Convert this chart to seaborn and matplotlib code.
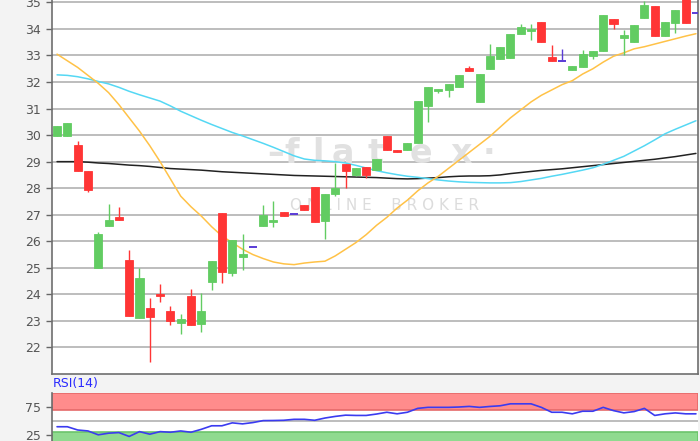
import numpy as np
import pandas as pd
import seaborn as sns
import matplotlib
matplotlib.use("Agg")
import matplotlib.pyplot as plt

# daily candles (index = trading day)
opens = [29.95, 29.95, 29.62, 28.66, 25.00, 26.56, 26.90, 25.30, 23.10, 23.48,
         24.00, 23.38, 22.92, 23.92, 22.88, 24.47, 27.06, 24.80, 25.40, 25.80,
         26.58, 26.72, 27.12, 27.03, 27.35, 28.04, 26.75, 27.80, 28.90, 28.50,
         28.80, 28.70, 29.95, 29.45, 29.45, 29.70, 31.10, 31.65, 31.70, 31.80,
         32.52, 31.26, 32.48, 32.88, 32.92, 33.80, 33.93, 34.26, 32.95, 32.78,
         32.47, 32.57, 32.97, 33.16, 34.39, 33.66, 33.49, 34.43, 34.85, 33.74,
         34.23, 35.40, 34.60]
closes = [30.35, 30.47, 28.64, 27.92, 26.27, 26.81, 26.82, 23.17, 24.60, 23.15,
          23.95, 23.00, 23.07, 22.86, 23.38, 25.24, 24.83, 26.06, 25.53, 25.80,
          27.00, 26.80, 26.97, 27.03, 27.16, 26.72, 27.80, 28.00, 28.65, 28.75,
          28.50, 29.10, 29.45, 29.35, 29.70, 31.30, 31.80, 31.72, 31.92, 32.25,
          32.40, 32.32, 32.97, 33.32, 33.82, 34.07, 34.00, 33.51, 32.80, 32.78,
          32.60, 33.05, 33.17, 34.51, 34.18, 33.76, 34.16, 34.89, 33.74, 34.26,
          34.70, 34.23, 34.60]
highs = [30.35, 30.47, 29.78, 28.66, 26.35, 27.40, 27.31, 25.68, 25.00, 23.86,
         24.40, 23.57, 23.25, 24.21, 24.05, 25.24, 27.06, 26.06, 26.27, 25.80,
         27.37, 27.52, 27.12, 27.03, 27.35, 28.04, 27.80, 28.94, 28.90, 28.75,
         28.80, 29.10, 29.95, 29.45, 29.70, 31.30, 31.80, 31.72, 31.92, 32.25,
         32.62, 32.32, 33.45, 33.32, 33.82, 34.20, 34.18, 34.26, 33.39, 33.26,
         32.60, 33.22, 33.17, 34.51, 34.39, 33.97, 34.16, 35.04, 34.85, 34.26,
         34.70, 35.40, 34.60]
lows = [29.95, 29.95, 28.64, 27.87, 25.00, 26.56, 26.82, 23.17, 23.10, 21.44,
        23.70, 22.86, 22.52, 22.86, 22.60, 24.17, 24.42, 24.70, 24.90, 25.80,
        26.58, 26.52, 26.97, 27.03, 27.16, 26.72, 26.08, 27.70, 28.00, 28.45,
        28.40, 28.70, 29.45, 29.35, 29.45, 29.70, 30.50, 31.57, 31.44, 31.80,
        32.40, 31.26, 32.48, 32.85, 32.92, 33.80, 33.60, 33.51, 32.80, 32.78,
        32.47, 32.57, 32.85, 33.16, 34.01, 33.03, 33.49, 34.43, 33.74, 33.74,
        33.85, 34.23, 34.60]

# moving averages
ma_fast = [33.05, 32.80, 32.55, 32.25, 31.95, 31.60, 31.15, 30.65, 30.15, 29.60,
           29.00, 28.35, 27.70, 27.30, 26.95, 26.55, 26.20, 25.95, 25.70, 25.50,
           25.35, 25.22, 25.15, 25.12, 25.18, 25.22, 25.25, 25.45, 25.70, 25.95,
           26.25, 26.60, 26.90, 27.25, 27.55, 27.90, 28.20, 28.45, 28.75, 29.05,
           29.35, 29.65, 29.95, 30.30, 30.65, 30.95, 31.25, 31.50, 31.70, 31.90,
           32.05, 32.30, 32.50, 32.75, 32.97, 33.10, 33.25, 33.33, 33.43, 33.53,
           33.63, 33.73, 33.82]
ma_mid = [32.27, 32.25, 32.20, 32.12, 32.02, 31.93, 31.80, 31.65, 31.52, 31.40,
          31.28, 31.10, 30.90, 30.73, 30.56, 30.40, 30.25, 30.10, 29.97, 29.83,
          29.69, 29.54, 29.38, 29.22, 29.10, 29.05, 29.03, 29.00, 28.95, 28.86,
          28.76, 28.66, 28.58, 28.51, 28.45, 28.41, 28.36, 28.31, 28.27, 28.24,
          28.22, 28.21, 28.20, 28.20, 28.21, 28.25, 28.31, 28.37, 28.45, 28.52,
          28.60, 28.68, 28.77, 28.90, 29.05, 29.20, 29.40, 29.60, 29.82, 30.05,
          30.22, 30.38, 30.54]
ma_slow = [29.00, 29.00, 29.00, 28.98, 28.95, 28.93, 28.90, 28.87, 28.85, 28.82,
           28.78, 28.74, 28.72, 28.70, 28.68, 28.65, 28.62, 28.60, 28.58, 28.56,
           28.54, 28.52, 28.50, 28.48, 28.47, 28.46, 28.45, 28.44, 28.43, 28.42,
           28.41, 28.40, 28.38, 28.36, 28.35, 28.36, 28.38, 28.40, 28.43, 28.45,
           28.46, 28.46, 28.47, 28.50, 28.55, 28.59, 28.63, 28.67, 28.70, 28.73,
           28.77, 28.81, 28.85, 28.89, 28.93, 28.97, 29.01, 29.05, 29.09, 29.14,
           29.19, 29.25, 29.31]

rsi = [39.4, 39.4, 33.6, 31.9, 25.0, 27.9, 29.0, 22.1, 30.7, 26.1,
       30.7, 29.6, 31.9, 29.6, 34.8, 41.1, 41.1, 46.3, 44.5, 46.8,
       50.3, 50.5, 50.9, 52.6, 52.6, 50.9, 54.9, 57.8, 60.0, 59.5,
       59.5, 62.0, 65.2, 62.4, 65.2, 72.1, 73.9, 73.9, 73.9, 74.5,
       75.6, 73.9, 75.5, 76.7, 80.2, 80.2, 80.2, 73.9, 65.2, 65.2,
       62.4, 67.0, 67.0, 73.9, 68.1, 64.1, 66.4, 72.1, 59.5, 62.4,
       64.0, 62.4, 62.4]

price_ticks = [22, 23, 24, 25, 26, 27, 28, 29, 30, 31, 32, 33, 34, 35]
rsi_ticks = [25, 75]

GREEN = "#62cc62"
RED = "#ff3535"
DOJI = "#5a3cd6"

sns.set_style("white")
plt.rcParams['font.family'] = ['DejaVu Sans']

df = pd.DataFrame({"open": opens, "close": closes, "high": highs, "low": lows,
                   "ma_fast": ma_fast, "ma_mid": ma_mid, "ma_slow": ma_slow,
                   "rsi": rsi})
df["day"] = np.arange(len(df))

fig = plt.figure(figsize=(7, 4.41), dpi=100, facecolor="#f3f3f3")
ax = fig.add_axes([52 / 700, 67 / 441, 646 / 700, 374 / 441])
ax_rsi = fig.add_axes([52 / 700, 0, 646 / 700, 48.3 / 441])

# price panel
ax.set_facecolor("white")
for t in price_ticks:
    ax.axhline(t, color="#b2b2b2", linewidth=1.2, zorder=0)

# watermark, behind the lines and candles
for ch, px in zip("\u2013flatex\u00b7", [276, 292, 318, 343, 376, 421, 461, 489]):
    ax.text(px / 700, 1 - 163 / 441, ch, transform=fig.transFigure, fontsize=24,
            fontweight="bold", color="#e1e1e1", ha="center", va="baseline", zorder=1)
ax.text(384 / 700, 1 - 205 / 441, "O N L I N E    B R O K E R", transform=fig.transFigure,
        fontsize=11, color="#dcdcdc", ha="center", va="center", zorder=1)

sns.lineplot(data=df, x="day", y="ma_slow", ax=ax, color="#222222", linewidth=1.1, zorder=2)
sns.lineplot(data=df, x="day", y="ma_mid", ax=ax, color="#55d8f4", linewidth=1.1, zorder=2)
sns.lineplot(data=df, x="day", y="ma_fast", ax=ax, color="#ffc247", linewidth=1.1, zorder=2)

up = df["close"] > df["open"]
down = df["close"] < df["open"]
flat = df["close"] == df["open"]
colors = np.where(up, GREEN, np.where(down, RED, DOJI))

ax.vlines(df["day"], df["low"], df["high"], colors=colors, linewidth=1.0, zorder=3)
body_lo = df[["open", "close"]].min(axis=1)
body_hi = df[["open", "close"]].max(axis=1)
solid = ~flat
ax.bar(df["day"][solid], (body_hi - body_lo)[solid], bottom=body_lo[solid],
       width=0.78, color=colors[solid], edgecolor=colors[solid], linewidth=0.6, zorder=4)
ax.hlines(df["close"][flat], df["day"][flat] - 0.39, df["day"][flat] + 0.39,
          colors=DOJI, linewidth=1.4, zorder=4)

ax.set_xlim(-0.49, 62.2)
ax.set_ylim(21.0, 35.09)
ax.set_yticks(price_ticks)
ax.set_xticks([])
ax.set_xlabel("")
ax.set_ylabel("")
ax.tick_params(axis="y", length=4, width=1, color="#666666", labelsize=9,
               labelcolor="#555555", pad=4, left=True)
for side in ["left", "bottom", "right"]:
    ax.spines[side].set_color("#6e6e6e")
    ax.spines[side].set_linewidth(1.2)
ax.spines["top"].set_visible(False)

# RSI panel
ax_rsi.set_facecolor("white")
ax_rsi.axhspan(70, 100, facecolor="#ff8c8c", edgecolor="#e56a6a", linewidth=1.2, zorder=0)
ax_rsi.axhspan(0, 30, facecolor="#8fda8f", edgecolor="#6cc46c", linewidth=1.2, zorder=0)
ax_rsi.axhline(50, color="#b2b2b2", linewidth=1.2, zorder=1)
sns.lineplot(data=df, x="day", y="rsi", ax=ax_rsi, color="#3b3bf0", linewidth=1.2, zorder=3)
ax_rsi.set_xlim(-0.49, 62.2)
ax_rsi.set_ylim(14, 100)
ax_rsi.set_yticks(rsi_ticks)
ax_rsi.set_xticks([])
ax_rsi.set_xlabel("")
ax_rsi.set_ylabel("")
ax_rsi.tick_params(axis="y", length=4, width=1, color="#666666", labelsize=9,
                   labelcolor="#555555", pad=4, left=True)
ax_rsi.spines["left"].set_color("#6e6e6e")
ax_rsi.spines["left"].set_linewidth(1.2)
for side in ["top", "right", "bottom"]:
    ax_rsi.spines[side].set_visible(False)

fig.text(53 / 700, 1 - 384 / 441, "RSI(14)", fontsize=9, color="#2a2aff",
         ha="left", va="center")

fig.savefig("out.png", dpi=100, facecolor=fig.get_facecolor())
plt.close(fig)
